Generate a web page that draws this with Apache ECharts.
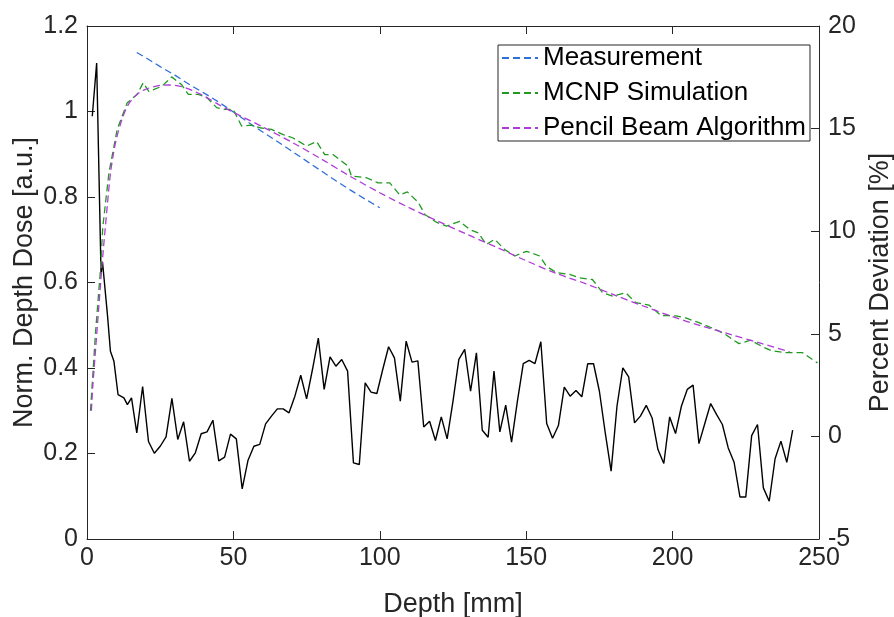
<!DOCTYPE html>
<html>
<head>
<meta charset="utf-8">
<script src="https://cdn.jsdelivr.net/npm/echarts@6/dist/echarts.min.js"></script>
<style>
  html, body { margin: 0; padding: 0; background: #fff; }
  #chart { width: 894px; height: 617px; }
</style>
</head>
<body>
<div id="chart"></div>
<script>
// Measurement (blue)
const measDepth = [17, 20, 25, 30, 35, 40, 45, 50, 55, 60, 65, 70, 75, 80, 85, 90, 95, 100];
const measDose = [1.138, 1.126, 1.105, 1.085, 1.063, 1.043, 1.022, 0.999, 0.975, 0.952, 0.930, 0.907, 0.884, 0.861, 0.838, 0.816, 0.795, 0.775];

// MCNP simulation (green)
const mcDepth = [1.2, 2.9, 4.6, 5.4, 7.5, 10.3, 13.7, 17.1, 19.2, 21.1, 25.6, 28.9, 32.3, 34.6, 38, 41, 44.3, 46.5, 49.9, 52.8,
  56, 59, 63, 67, 70.4, 75, 78.4, 81.2, 84.1, 89.2, 90.3, 95.5, 99.4, 103.4, 106.8, 109.4, 113.1, 115.4, 119.3, 122.8,
  127.3, 130.7, 133.6, 136.4, 139.2, 142.7, 146.1, 150.1, 154.6, 156.9, 160.3, 164.8, 168.1, 172.6, 176.1, 179.5, 184,
  187.4, 192, 196, 201.1, 204.5, 209, 214.7, 218.2, 220.4, 222.7, 226.7, 230.6, 234, 238.6, 244.3, 249.5];
const mcDose = [0.300, 0.482, 0.630, 0.730, 0.857, 0.958, 1.020, 1.040, 1.067, 1.047, 1.059, 1.081, 1.063, 1.040, 1.040, 1.032, 1.009, 1.005, 1.005, 0.966,
  0.968, 0.962, 0.958, 0.946, 0.938, 0.919, 0.930, 0.899, 0.899, 0.872, 0.849, 0.845, 0.833, 0.833, 0.805, 0.812, 0.788, 0.759, 0.741, 0.732,
  0.743, 0.724, 0.716, 0.689, 0.701, 0.677, 0.662, 0.673, 0.662, 0.638, 0.623, 0.619, 0.611, 0.607, 0.576, 0.568, 0.576,
  0.553, 0.547, 0.523, 0.522, 0.517, 0.506, 0.490, 0.478, 0.467, 0.457, 0.465, 0.450, 0.440, 0.436, 0.436, 0.412];

// Pencil beam algorithm (purple)
const pbDepth = [1.5, 2, 3, 4, 5, 6, 7, 8, 9, 10, 12, 14, 16, 18, 20, 24, 28, 32, 36, 40, 45, 50, 60, 70, 80, 90, 100,
  110, 120, 130, 140, 150, 160, 170, 180, 190, 200, 210, 220, 230, 240];
const pbDose = [0.30, 0.36, 0.45, 0.54, 0.63, 0.71, 0.785, 0.855, 0.90, 0.935, 0.983, 1.015, 1.033, 1.045, 1.052, 1.060, 1.062, 1.059, 1.049, 1.036, 1.016, 0.998, 0.964, 0.928, 0.889, 0.848, 0.810,
  0.775, 0.743, 0.712, 0.682, 0.651, 0.622, 0.598, 0.571, 0.545, 0.520, 0.498, 0.478, 0.458, 0.438];

// percent deviation (black, right axis)
const devDepth = [1.8, 3.3, 4.8, 5.3, 7, 8, 9.2, 10.6, 11.2, 12.6, 13.8, 15.2, 17, 19, 21, 23, 25, 27, 29, 31, 33, 35, 37, 39,
  41, 43, 45, 47, 49, 51, 53, 55, 57, 59, 61, 63, 65, 67, 69, 71, 73, 75, 77, 79, 81, 83, 85, 87, 89, 91, 93, 95, 97, 99,
  101, 103, 105, 107, 109, 111, 113, 115, 117, 119, 121, 123, 125, 127, 129, 131, 133, 135, 137, 139, 141, 143, 145, 147, 149,
  151, 153, 155, 157, 159, 161, 163, 165, 167, 169, 171, 173, 175, 177, 179, 181, 183, 185, 187, 189, 191, 193, 195, 197, 199,
  201, 203, 205, 207, 209, 211, 213, 215, 217, 219, 221, 223, 225, 227, 229, 231, 233, 235, 237, 239, 241];
const devPct = [15.6, 18.2, 7.9, 8.5, 5.9, 4.15, 3.66, 2.04, 2.12, 1.88, 1.55, 1.88, 0.17, 2.43, -0.25, -0.82, -0.48, -0.02, 1.85, -0.15, 0.71, -1.21, -0.80, 0.13,
  0.22, 0.79, -1.19, -1.01, 0.11, -0.12, -2.56, -1.16, -0.48, -0.39, 0.61, 0.99, 1.34, 1.34, 1.15, 1.96, 2.98, 1.83, 3.26, 4.79, 2.29, 3.87, 3.42, 3.75, 3.18, -1.29, -1.37, 2.61, 2.16, 2.09,
  3.26, 4.37, 3.83, 1.72, 4.64, 3.62, 3.68, 0.46, 0.74, -0.20, 0.95, -0.12, 1.72, 3.75, 4.24, 2.20, 4.07, 0.30, -0.04, 3.18, 0.22, 1.52, -0.28, 1.72, 3.55,
  3.70, 3.55, 4.61, 0.63, -0.09, 0.53, 2.40, 1.96, 2.24, 1.93, 3.54, 3.54, 2.20, 0.17, -1.69, 1.47, 3.34, 2.90, 0.66, 0.99, 1.51, 0.90, -0.64, -1.32, 0.95,
  0.14, 1.47, 2.29, 2.50, -0.35, 0.63, 1.60, 1.07, 0.58, -0.56, -1.26, -2.95, -2.95, 0.04, 0.58, -2.51, -3.16, -1.09, -0.23, -1.26, 0.30];

const pairs = (xs, ys) => xs.map((x, i) => [x, ys[i]]);

const axisColor = '#262626';
const font = 'Liberation Sans, Arial, Helvetica, sans-serif';
const dash = [7, 4];
const tickFont = 25;
const nameFont = 27;

const chart = echarts.init(document.getElementById('chart'));
chart.setOption({
  animation: false,
  textStyle: { fontFamily: font },
  grid: { left: 87, right: 75, top: 26, bottom: 78, outerBoundsMode: 'none' },
  legend: {
    orient: 'vertical',
    left: 498,
    top: 45,
    itemWidth: 36,
    itemHeight: 14,
    itemGap: 9,
    padding: [0, 4, 0, 3],
    borderColor: axisColor,
    borderWidth: 1,
    backgroundColor: '#fff',
    itemStyle: { opacity: 0 },
    textStyle: { fontSize: 26, color: '#000', fontFamily: font },
    data: ['Measurement', 'MCNP Simulation', 'Pencil Beam Algorithm']
  },
  xAxis: [
    {
      type: 'value', min: 0, max: 250, interval: 50,
      name: 'Depth [mm]', nameLocation: 'middle', nameGap: 52, nameMoveOverlap: false,
      nameTextStyle: { fontSize: nameFont, color: axisColor },
      axisLine: { onZero: false, lineStyle: { color: axisColor, width: 1 } },
      axisTick: { inside: true, length: 8, lineStyle: { color: axisColor } },
      axisLabel: { fontSize: tickFont, color: axisColor, margin: 7 },
      splitLine: { show: false }
    },
    {
      type: 'value', min: 0, max: 250, interval: 50, position: 'top',
      axisLine: { onZero: false, lineStyle: { color: axisColor, width: 1 } },
      axisTick: { inside: true, length: 8, lineStyle: { color: axisColor } },
      axisLabel: { show: false },
      splitLine: { show: false }
    }
  ],
  yAxis: [
    {
      type: 'value', min: 0, max: 1.2, interval: 0.2, position: 'left',
      name: 'Norm. Depth Dose [a.u.]', nameLocation: 'middle', nameGap: 49, nameRotate: 90, nameMoveOverlap: false,
      nameTextStyle: { fontSize: nameFont, color: axisColor },
      axisLine: { show: true, onZero: false, lineStyle: { color: axisColor, width: 1 } },
      axisTick: { show: true, inside: true, length: 8, lineStyle: { color: axisColor } },
      axisLabel: { fontSize: tickFont, color: axisColor, margin: 9 },
      splitLine: { show: false }
    },
    {
      type: 'value', min: -5, max: 20, interval: 5, position: 'right',
      name: 'Percent Deviation [%]', nameLocation: 'middle', nameGap: 48, nameRotate: 90, nameMoveOverlap: false,
      nameTextStyle: { fontSize: nameFont, color: axisColor },
      axisLine: { show: true, onZero: false, lineStyle: { color: axisColor, width: 1 } },
      axisTick: { show: true, inside: true, length: 8, lineStyle: { color: axisColor } },
      axisLabel: { fontSize: tickFont, color: axisColor, margin: 9 },
      splitLine: { show: false }
    }
  ],
  series: [
    {
      name: 'Percent Deviation',
      type: 'line', yAxisIndex: 1, symbol: 'none',
      lineStyle: { color: '#000', width: 1.4 },
      data: pairs(devDepth, devPct),
      z: 1
    },
    {
      name: 'Measurement',
      type: 'line', symbol: 'none',
      itemStyle: { color: '#2f6fd8' },
      lineStyle: { color: '#2f6fd8', width: 1.3, type: dash },
      data: pairs(measDepth, measDose),
      z: 2
    },
    {
      name: 'MCNP Simulation',
      type: 'line', symbol: 'none',
      itemStyle: { color: '#1f9a1f' },
      lineStyle: { color: '#1f9a1f', width: 1.3, type: dash },
      data: pairs(mcDepth, mcDose),
      z: 3
    },
    {
      name: 'Pencil Beam Algorithm',
      type: 'line', symbol: 'none', smooth: 0.3,
      itemStyle: { color: '#b03ad8' },
      lineStyle: { color: '#b03ad8', width: 1.3, type: dash },
      data: pairs(pbDepth, pbDose),
      z: 4
    }
  ]
});
</script>
</body>
</html>
